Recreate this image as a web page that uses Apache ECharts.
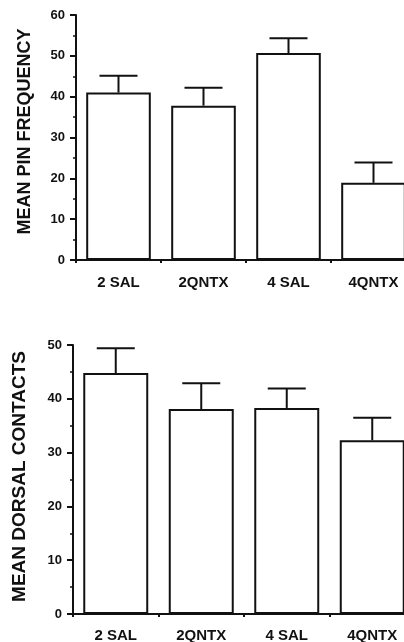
<!DOCTYPE html>
<html>
<head>
<meta charset="utf-8">
<script src="https://cdn.jsdelivr.net/npm/echarts@6/dist/echarts.min.js"></script>
<style>
html,body{margin:0;padding:0;background:#fff;}
#c{width:404px;height:642px;}
</style>
</head>
<body>
<div id="c"></div>
<script>
var categories = ['2 SAL', '2QNTX', '4 SAL', '4QNTX'];
var pinMean = [41, 37.8, 50.7, 18.9];
var pinErrTop = [45.1, 42.2, 54.3, 23.9];
var dorsalMean = [44.8, 38.1, 38.3, 32.3];
var dorsalErrTop = [49.4, 42.9, 41.9, 36.5];
var pinTicks = [0, 60, 10];
var dorsalTicks = [0, 50, 10];

var FONT = '"Liberation Sans", Arial, sans-serif';
var INK = '#111';

var chart = echarts.init(document.getElementById('c'), null, {renderer: 'canvas'});

function yAxis(idx, ticks, name, gap, shift, nameSize) {
  return {
    type: 'value', gridIndex: idx, min: ticks[0], max: ticks[1], interval: ticks[2],
    name: name, nameLocation: 'middle', nameGap: gap, nameRotate: 90,
    nameTextStyle: {fontFamily: FONT, fontWeight: 'bold', fontSize: nameSize, color: INK, padding: [0, 0, 0, shift]},
    axisLine: {show: true, lineStyle: {color: INK, width: 2}},
    axisTick: {show: true, inside: false, length: 6, lineStyle: {color: INK, width: 2}},
    minorTick: {show: true, splitNumber: 2, length: 3, lineStyle: {color: INK, width: 1.5}},
    splitLine: {show: false},
    axisLabel: {fontFamily: FONT, fontWeight: 'bold', fontSize: 13, color: INK, margin: 11}
  };
}
function xAxis(idx, margin) {
  return {
    type: 'category', gridIndex: idx, data: categories,
    axisLine: {show: true, lineStyle: {color: INK, width: 2}},
    axisTick: {show: true, length: 3, alignWithLabel: false, lineStyle: {color: INK, width: 2}},
    axisLabel: {fontFamily: FONT, fontWeight: 'bold', fontSize: 15, color: INK, margin: margin}
  };
}
function errSeries(idx, means, tops) {
  return {
    type: 'custom', xAxisIndex: idx, yAxisIndex: idx, z: 3,
    data: means.map(function (m, i) { return [i, m, tops[i]]; }),
    renderItem: function (params, api) {
      var base = api.coord([api.value(0), api.value(1)]);
      var top = api.coord([api.value(0), api.value(2)]);
      var half = 19;
      return {
        type: 'group',
        children: [
          {type: 'line', shape: {x1: base[0], y1: base[1], x2: top[0], y2: top[1]}, style: {stroke: INK, lineWidth: 2}},
          {type: 'line', shape: {x1: top[0] - half, y1: top[1], x2: top[0] + half, y2: top[1]}, style: {stroke: INK, lineWidth: 2}}
        ]
      };
    }
  };
}
function barSeries(idx, vals) {
  return {
    type: 'bar', xAxisIndex: idx, yAxisIndex: idx, data: vals, barWidth: '76%', z: 2,
    itemStyle: {color: '#fff', borderColor: INK, borderWidth: 2},
    silent: true
  };
}

chart.setOption({
  animation: false,
  backgroundColor: '#fff',
  grid: [
    {left: 76, top: 15, width: 340, height: 245, containLabel: false, outerBoundsMode: 'none'},
    {left: 73, top: 345, width: 342, height: 269, containLabel: false, outerBoundsMode: 'none'}
  ],
  xAxis: [xAxis(0, 15), xAxis(1, 14)],
  yAxis: [
    yAxis(0, pinTicks, 'MEAN PIN FREQUENCY', 42, 12, 18),
    yAxis(1, dorsalTicks, 'MEAN DORSAL CONTACTS', 44, 6, 19)
  ],
  series: [
    barSeries(0, pinMean), errSeries(0, pinMean, pinErrTop),
    barSeries(1, dorsalMean), errSeries(1, dorsalMean, dorsalErrTop)
  ]
});
</script>
</body>
</html>
